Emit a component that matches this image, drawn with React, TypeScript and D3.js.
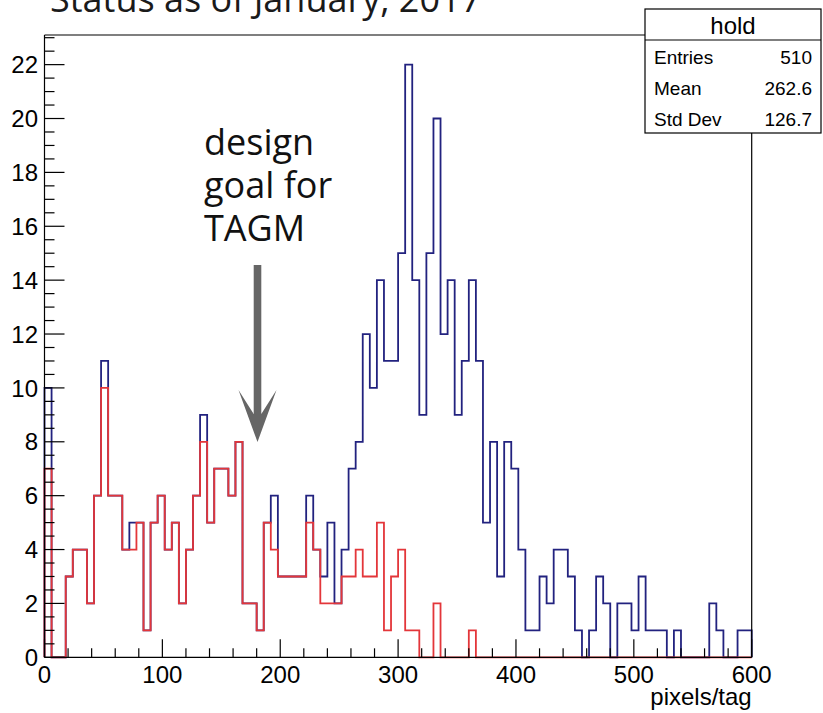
import React from "react";
import * as d3 from "d3";

// ---- data ----
const binLow = 0;
const binHigh = 600;
const binCount = 100;
// "hold" histogram (blue), counts per 6-unit bin
const holdCounts = [
  10, 0, 0, 3, 4, 4, 2, 6, 11, 6,
  6, 4, 5, 5, 1, 5, 6, 4, 5, 2,
  4, 6, 9, 5, 7, 7, 6, 8, 2, 2,
  1, 5, 6, 3, 3, 3, 3, 6, 4, 3,
  5, 2, 4, 7, 8, 12, 10, 14, 11, 11,
  15, 22, 14, 9, 15, 20, 12, 14, 9, 11,
  14, 11, 5, 8, 3, 8, 7, 4, 1, 1,
  3, 2, 4, 4, 3, 1, 0, 1, 3, 2,
  0, 2, 2, 1, 3, 1, 1, 1, 0, 1,
  0, 0, 0, 0, 2, 1, 0, 0, 1, 1,
];
// second histogram (red)
const redCounts = [
  7, 0, 0, 3, 4, 4, 2, 6, 10, 6,
  6, 4, 4, 5, 1, 5, 6, 4, 5, 2,
  4, 6, 8, 5, 7, 7, 6, 8, 2, 2,
  1, 5, 4, 3, 3, 3, 3, 5, 4, 2,
  2, 2, 3, 3, 4, 3, 3, 5, 1, 3,
  4, 1, 1, 0, 0, 2, 0, 0, 0, 0,
  1, 0, 0, 0, 0, 0, 0, 0, 0, 0,
  0, 0, 0, 0, 0, 0, 0, 0, 0, 0,
  0, 0, 0, 0, 0, 0, 0, 0, 0, 0,
  0, 0, 0, 0, 0, 0, 0, 0, 0, 0,
];
const xMajorTicks = [0, 100, 200, 300, 400, 500, 600];
const yMajorTicks = [0, 2, 4, 6, 8, 10, 12, 14, 16, 18, 20, 22];
const yMax = 23.1;
const statsTitle = "hold";
const statsRows = [
  ["Entries", "510"],
  ["Mean", "262.6"],
  ["Std Dev", "126.7"],
];
const titleText = "Status as of January, 2017";
const noteLines = ["design", "goal for", "TAGM"];
const xTitle = "pixels/tag";

const W = 823;
const H = 713;
const frame = { left: 44.5, right: 751.7, top: 35, bottom: 657.3 };

export default function App() {
  const x = d3.scaleLinear().domain([binLow, binHigh]).range([frame.left, frame.right]);
  const y = d3.scaleLinear().domain([0, yMax]).range([frame.bottom, frame.top]);
  const bw = (binHigh - binLow) / binCount;

  const stepPath = (counts: number[]) => {
    const pts: [number, number][] = [[binLow, 0]];
    counts.forEach((c, i) => {
      pts.push([binLow + i * bw, c]);
      pts.push([binLow + (i + 1) * bw, c]);
    });
    pts.push([binHigh, 0]);
    return d3.line<[number, number]>().x((d) => x(d[0])).y((d) => y(d[1]))(pts) || "";
  };

  const xMinor = d3.range(binLow, binHigh + 0.001, 20);
  const yMinor = d3.range(0, 23.01, 0.5);
  const axisFont = "'Liberation Sans', Arial, Helvetica, sans-serif";

  const statsBox = { left: 645, top: 9, right: 821, div: 40, bottom: 133 };

  // arrow geometry (annotation)
  const ax = 257.5;
  const arrowTop = 265;
  const arrowTip = 442;
  const wingY = 390;
  const neckY = 414;
  const half = 19;
  const shaft = 3.8;

  return (
    <svg
      width={W}
      height={H}
      style={{ position: "absolute", left: 0, top: 0, background: "#fff" }}
    >
      <rect x={0} y={0} width={W} height={H} fill="#fff" />
      {/* title (cut at top) */}
      <text
        x={50}
        y={12}
        fontFamily="'Open Sans', sans-serif"
        fontSize={36}
        fill="#1a1a1a"
      >
        {titleText}
      </text>

      {/* histograms */}
      <path d={stepPath(holdCounts)} fill="none" stroke="#22227f" strokeWidth={1.8} />
      <path d={stepPath(redCounts)} fill="none" stroke="#e3363a" strokeWidth={1.8} />

      {/* frame */}
      <line x1={frame.left} x2={frame.left} y1={frame.top} y2={frame.bottom} stroke="#000" strokeWidth={1.2} />
      <line x1={frame.left} x2={frame.right} y1={frame.bottom} y2={frame.bottom} stroke="#000" strokeWidth={1.2} />
      <line x1={frame.left} x2={statsBox.left} y1={frame.top} y2={frame.top} stroke="#000" strokeWidth={1.2} />
      <line x1={frame.right} x2={frame.right} y1={statsBox.bottom} y2={frame.bottom} stroke="#000" strokeWidth={1.2} />

      {/* x ticks */}
      {xMinor.map((v) => {
        const major = xMajorTicks.includes(v);
        return (
          <line
            key={"xt" + v}
            x1={x(v)}
            x2={x(v)}
            y1={frame.bottom}
            y2={frame.bottom - (major ? 18 : 9)}
            stroke="#000"
            strokeWidth={1.2}
          />
        );
      })}
      {xMajorTicks.map((v) => (
        <text
          key={"xl" + v}
          x={x(v)}
          y={683}
          textAnchor="middle"
          fontFamily={axisFont}
          fontSize={24}
          fill="#000"
        >
          {v}
        </text>
      ))}
      <text x={frame.right} y={705} textAnchor="end" fontFamily={axisFont} fontSize={24} fill="#000">
        {xTitle}
      </text>

      {/* y ticks */}
      {yMinor.map((v) => {
        const major = yMajorTicks.includes(v);
        return (
          <line
            key={"yt" + v}
            x1={frame.left}
            x2={frame.left + (major ? 20 : 10)}
            y1={y(v)}
            y2={y(v)}
            stroke="#000"
            strokeWidth={1.2}
          />
        );
      })}
      {yMajorTicks.map((v) => (
        <text
          key={"yl" + v}
          x={38}
          y={y(v)}
          dy="0.36em"
          textAnchor="end"
          fontFamily={axisFont}
          fontSize={24}
          fill="#000"
        >
          {v}
        </text>
      ))}

      {/* stats box */}
      <rect
        x={statsBox.left}
        y={statsBox.top}
        width={statsBox.right - statsBox.left}
        height={statsBox.bottom - statsBox.top}
        fill="#fff"
        stroke="#000"
        strokeWidth={1.2}
      />
      <line x1={statsBox.left} x2={statsBox.right} y1={statsBox.div} y2={statsBox.div} stroke="#000" strokeWidth={1.2} />
      <text x={733} y={34} textAnchor="middle" fontFamily={axisFont} fontSize={24} fill="#000">
        {statsTitle}
      </text>
      {statsRows.map((r, i) => (
        <g key={r[0]}>
          <text x={654} y={64 + i * 31} fontFamily={axisFont} fontSize={19} fill="#000">
            {r[0]}
          </text>
          <text x={812} y={64 + i * 31} textAnchor="end" fontFamily={axisFont} fontSize={19} fill="#000">
            {r[1]}
          </text>
        </g>
      ))}

      {/* annotation */}
      {noteLines.map((t, i) => (
        <text
          key={t}
          x={204}
          y={155 + i * 43}
          fontFamily="'Open Sans', sans-serif"
          fontSize={36}
          fill="#111"
        >
          {t}
        </text>
      ))}
      <path
        d={`M${ax - shaft},${arrowTop} L${ax + shaft},${arrowTop} L${ax + shaft},${neckY} L${ax + half},${wingY} L${ax},${arrowTip} L${ax - half},${wingY} L${ax - shaft},${neckY} Z`}
        fill="#666"
      />
    </svg>
  );
}
